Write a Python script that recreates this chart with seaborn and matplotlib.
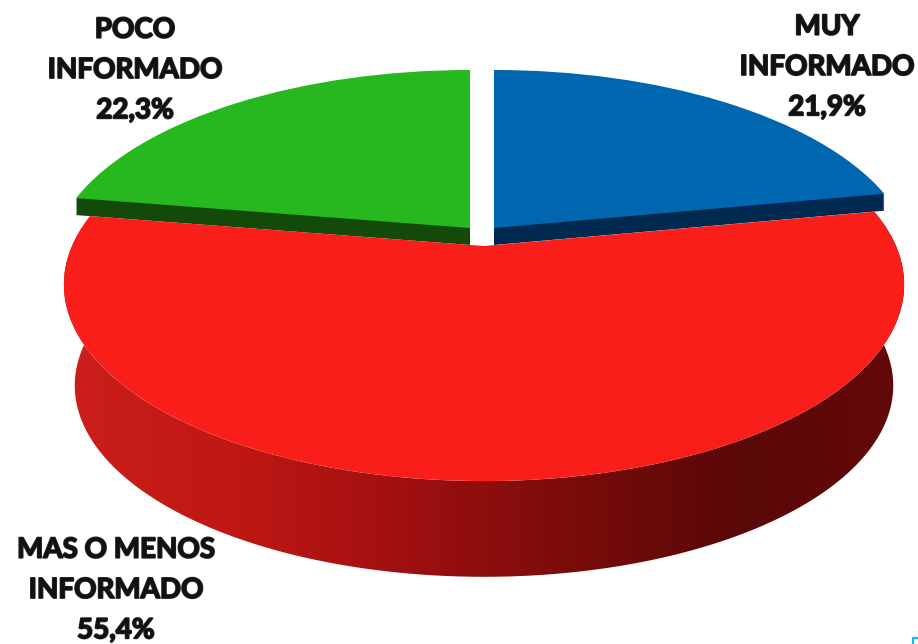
import numpy as np
import seaborn as sns
import matplotlib.pyplot as plt
from matplotlib.colors import LinearSegmentedColormap
from matplotlib.path import Path
from matplotlib.patches import PathPatch
from matplotlib.transforms import Transform
import matplotlib.patheffects as pe

labels = ['MUY\nINFORMADO\n21,9%', 'MAS O MENOS\nINFORMADO\n55,4%', 'POCO\nINFORMADO\n22,3%']
values = [21.9, 55.4, 22.3]
top_colors = ['#0066b0', '#fa1e1b', '#27b81f']
wall_colors = ['#00294f', '#7a0c0a', '#134a0a']
side_colors = ['#cc1f1b', '#c01714', '#a01010', '#7a0c0a', '#5a0808', '#640908']

# where each slice sits on the picture, pixels
centers = [(494, 228), (484, 246), (470, 228)]
label_pos = [(827, 67), (116, 590), (135, 70)]
RX, RY, PERSP = 412, 189, 0.196
WALL_DROP = 17
SIDE_DROP, SIDE_SHRINK = 103, 0.975


class Tilt(Transform):
    # lays the flat pie down on the table, far side smaller than near side
    input_dims = output_dims = 2

    def __init__(self, center, drop=0, shrink=1.0):
        super().__init__()
        self.center = center
        self.drop = drop
        self.shrink = shrink

    def transform_non_affine(self, values):
        u, v = values[:, 0] * self.shrink, values[:, 1] * self.shrink
        s = 1 / (1 + PERSP * v)
        return np.column_stack([self.center[0] + RX * u * s,
                                self.center[1] + self.drop - RY * v * s])


sns.set_theme(style='white')
plt.rcParams['font.family'] = ['Lato', 'DejaVu Sans']

fig = plt.figure(figsize=(9.18, 6.44), dpi=100)
ax = fig.add_axes([0, 0, 1, 1])
no_edge = {'linewidth': 0, 'edgecolor': 'none'}

# dark walls of the two small slices, red covers most of them later
for drop in range(WALL_DROP, 0, -1):
    wedges, _ = ax.pie(values, startangle=90, counterclock=False,
                       colors=sns.color_palette(wall_colors), wedgeprops=no_edge)
    for w, c in zip(wedges, centers):
        w.set_transform(Tilt(c, drop) + ax.transData)
    wedges[1].set_visible(False)

# red outer side with its gradient
tops, _ = ax.pie(values, startangle=90, counterclock=False,
                 colors=sns.color_palette(top_colors), wedgeprops=no_edge)
red = tops[1]
ang = np.radians(np.linspace(red.theta1, red.theta2, 200))
arc = np.column_stack([np.cos(ang), np.sin(ang)])
upper = Tilt(centers[1]).transform(arc)
lower = Tilt(centers[1], SIDE_DROP, SIDE_SHRINK).transform(arc)
hull = Path(np.vstack([upper, lower[::-1], upper[:1]]), closed=True)
clip = PathPatch(hull, transform=ax.transData, fc='none', ec='none')
ax.add_patch(clip)
cmap = LinearSegmentedColormap.from_list('side', side_colors)
x0, x1 = hull.vertices[:, 0].min(), hull.vertices[:, 0].max()
y0, y1 = hull.vertices[:, 1].min(), hull.vertices[:, 1].max()
img = ax.imshow(np.linspace(0, 1, 256)[None, :], cmap=cmap, aspect='auto', extent=[x0, x1, y1, y0], zorder=1.5)
img.set_clip_path(clip)

for w, c in zip(tops, centers):
    w.set_transform(Tilt(c) + ax.transData)
    w.set_zorder(2)

for txt, (x, y) in zip(labels, label_pos):
    t = ax.text(x, y, txt, ha='center', va='center', fontsize=20, fontweight='bold',
                color='#111111', linespacing=1.68, zorder=3)
    t.set_path_effects([pe.withStroke(linewidth=1.3, foreground='#222222')])

# small stray corner at the bottom right of the original
ax.plot([913, 913, 918], [644, 638, 638], color='#1ab4f0', lw=1.6, zorder=3)

ax.set_aspect('auto')
ax.set_xlim(0, 918)
ax.set_ylim(644, 0)
ax.axis('off')
fig.savefig('out.png', dpi=100)
